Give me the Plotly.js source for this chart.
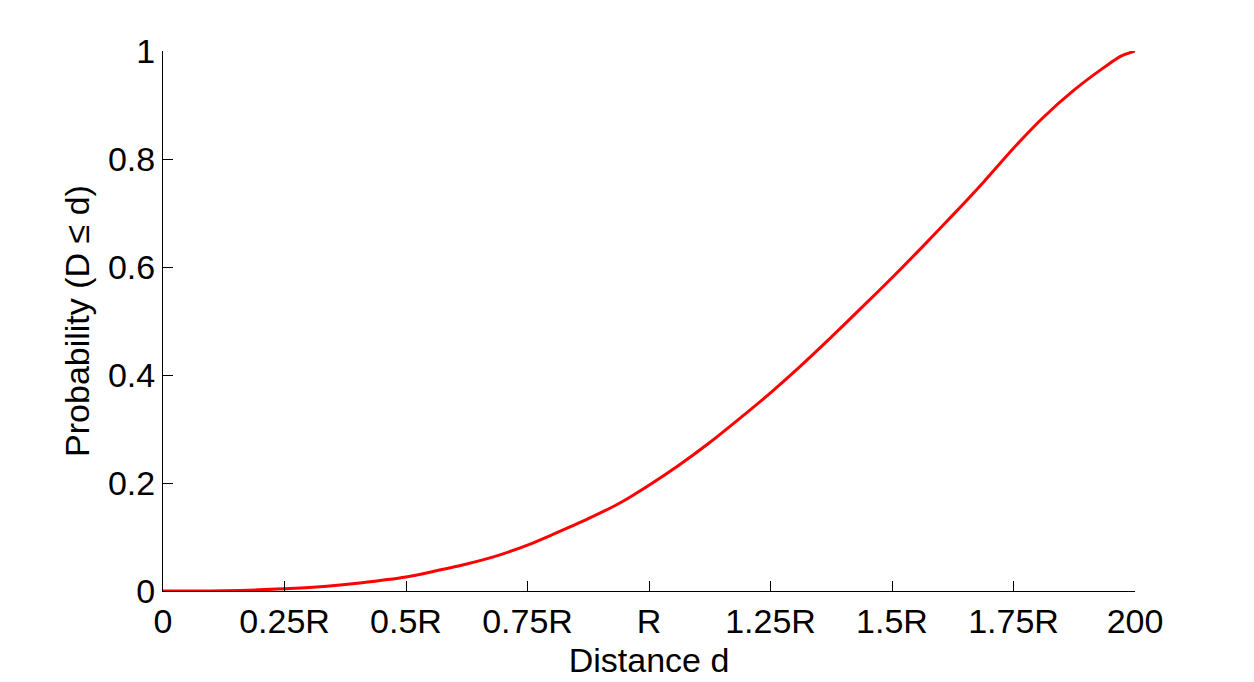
<!DOCTYPE html>
<html>
<head>
<meta charset="utf-8">
<script src="https://cdn.plot.ly/plotly-3.0.1.min.js"></script>
<style>
  html, body { margin: 0; padding: 0; background: #fff; }
  #cdfPlot { width: 1254px; height: 682px; }
</style>
</head>
<body>
<div id="cdfPlot"></div>
<script>
// distance values (R = 100) and read-off probabilities P(D <= d)
const distance = [0, 12.5, 25, 33.7, 40.5, 50, 56, 62.5, 69, 75, 80, 87.5, 94, 100,
  106, 112.5, 119, 125, 131, 137.5, 144, 150, 156, 162.5, 169, 175, 181, 187.5, 194, 197, 200];
const probability = [0, 0.0006, 0.004, 0.009, 0.015, 0.026, 0.037, 0.050, 0.066, 0.085,
  0.104, 0.134, 0.163, 0.196, 0.232, 0.275, 0.322, 0.367, 0.415, 0.470, 0.527, 0.580,
  0.635, 0.696, 0.759, 0.820, 0.876, 0.928, 0.972, 0.990, 1.0];

const xTickVals = [0, 25, 50, 75, 100, 125, 150, 175, 200];
const xTickText = ['0', '0.25R', '0.5R', '0.75R', 'R', '1.25R', '1.5R', '1.75R', '200'];
const yTickVals = [0, 0.2, 0.4, 0.6, 0.8, 1];

const font = {family: '"Liberation Sans", Arial, sans-serif', size: 34, color: '#000'};

const cdfTrace = {
  type: 'scatter',
  mode: 'lines',
  x: distance,
  y: probability,
  line: {color: '#ff0000', width: 3, shape: 'spline', smoothing: 0.7},
  hoverinfo: 'skip',
  showlegend: false
};

const layout = {
  width: 1254,
  height: 682,
  margin: {l: 163, r: 119, t: 51, b: 91, pad: 0},
  paper_bgcolor: '#fff',
  plot_bgcolor: '#fff',
  font: font,
  xaxis: {
    range: [0, 200],
    tickvals: xTickVals,
    ticktext: xTickText,
    ticks: 'inside',
    ticklen: 10,
    tickcolor: '#000',
    tickwidth: 1,
    showline: true,
    linecolor: '#000',
    linewidth: 1,
    showgrid: false,
    zeroline: false,
    tickfont: font,
    title: {text: 'Distance d', font: font, standoff: 9}
  },
  yaxis: {
    range: [0, 1],
    tickvals: yTickVals,
    ticks: 'inside',
    ticklen: 10,
    tickcolor: '#000',
    tickwidth: 1,
    showline: true,
    linecolor: '#000',
    linewidth: 1,
    showgrid: false,
    zeroline: false,
    tickfont: font,
    title: {text: 'Probability (D ≤ d)', font: font, standoff: 8}
  }
};

Plotly.newPlot('cdfPlot', [cdfTrace], layout, {displayModeBar: false, staticPlot: true});
</script>
</body>
</html>
